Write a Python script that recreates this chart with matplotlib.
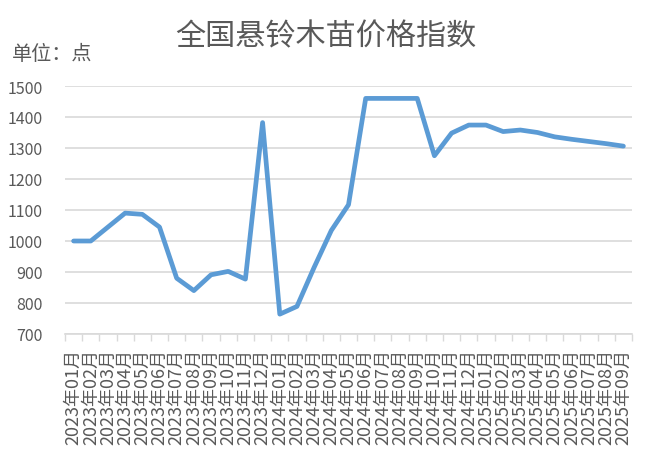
import matplotlib
matplotlib.use("Agg")
import matplotlib.pyplot as plt
import numpy as np

plt.rcParams['font.family'] = ['Noto Sans CJK SC', 'DejaVu Sans']

months = ([f"2023年{m:02d}月" for m in range(1, 13)] +
          [f"2024年{m:02d}月" for m in range(1, 13)] +
          [f"2025年{m:02d}月" for m in range(1, 10)])
values = [1000, 1000, 1045, 1090, 1086, 1045, 880, 840, 891, 902, 877, 1382,
          764, 789, 915, 1034, 1117, 1460, 1460, 1460, 1460, 1275, 1348, 1374,
          1374, 1353, 1358, 1350, 1336, 1328, 1321, 1314, 1306]
yticks = [700, 800, 900, 1000, 1100, 1200, 1300, 1400, 1500]
title = "全国悬铃木苗价格指数"
unit_label = "单位：点"

fig = plt.figure(figsize=(6.54, 4.56), dpi=100)
ax = fig.add_axes([65/654, 1 - 335/456, (632 - 65)/654, (335 - 87)/456])

x = np.arange(len(values))
ax.plot(x, values, color='#5B9BD5', linewidth=3.4, solid_joinstyle='round', solid_capstyle='round')

ax.set_xlim(-0.5, len(values) - 0.5)
ax.set_ylim(700, 1500)
ax.set_yticks(yticks)
ax.set_yticklabels([str(v) for v in yticks], fontsize=11.5, color='#595959')
ax.tick_params(axis='y', length=0, pad=16)
ax.yaxis.grid(True, color='#d9d9d9', linewidth=1.2)
ax.set_axisbelow(True)

# category boundary ticks
ax.set_xticks(np.arange(-0.5, len(values), 1.0))
ax.set_xticklabels([])
ax.tick_params(axis='x', which='major', length=5, color='#d9d9d9', width=1)
ax.set_xticks(x, minor=True)
ax.set_xticklabels(months, minor=True, rotation=90, fontsize=13, color='#595959')
ax.tick_params(axis='x', which='minor', length=0, pad=10)

for s in ['top', 'right', 'left']:
    ax.spines[s].set_visible(False)
ax.spines['bottom'].set_color('#d9d9d9')
ax.spines['bottom'].set_linewidth(1.2)

fig.text(326/654, 1 - 37/456, title, ha='center', va='center', fontsize=21.7, color='#595959')
fig.text(12/654, 1 - 55/456, unit_label, ha='left', va='center', fontsize=14.5, color='#595959')

fig.savefig('out.png', dpi=100, facecolor='white')
